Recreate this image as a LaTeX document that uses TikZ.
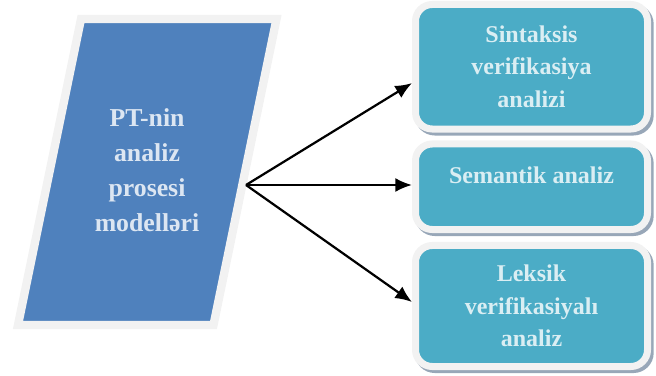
\documentclass[tikz,border=0pt]{standalone}
\usepackage{fontspec}
\setmainfont{Liberation Serif}
\usetikzlibrary{shapes.geometric,arrows.meta,shadows,positioning}
\definecolor{modblue}{HTML}{4F81BD}
\definecolor{boxteal}{HTML}{4BACC6}
\definecolor{rimgray}{HTML}{F2F2F2}
\definecolor{shdw}{HTML}{98A7B8}
\definecolor{txtblue}{HTML}{DCE6F2}
\definecolor{txtteal}{HTML}{DAEEF3}
\tikzset{
    shadowed/.style ={drop shadow={shadow xshift=0.08cm, shadow yshift=-0.09cm, fill=shdw, draw=shdw, opacity=1}},
    model/.style ={fill=modblue, draw=rimgray, line width=0.25cm, line join=miter, shadowed},
    modeltext/.style ={text=txtblue, align=center, font=\bfseries\fontsize{22}{30}\selectfont},
    stage/.style ={rounded corners=0.5cm, fill=boxteal, draw=rimgray, line width=0.21cm, shadowed,
        minimum width=6.96cm, text=txtteal, align=center, font=\bfseries\fontsize{20.5}{27.5}\selectfont},
    link/.style ={-{Latex[length=0.5cm,width=0.42cm]}, line width=1.9pt}
}
\begin{document}
\begin{tikzpicture}[x=0.03cm, y=-0.03cm]
    \useasboundingbox (0,0) rectangle (656,376);
    \path[model] (18,325) -- (81,19) -- (276.5,19) -- (213.5,325) -- cycle;
    \node (m) at (147,170) [modeltext] {PT-nin\\analiz\\prosesi\\modelləri};
    \node (syn) at (531.5,66.75) [stage, minimum height=3.735cm] {Sintaksis\\verifikasiya\\analizi};
    \node (sem) at (531.5,186.75) [stage, minimum height=2.565cm, text height=0.48cm, text depth=0.7cm] {Semantik analiz};
    \node (lex) at (531.5,306) [stage, minimum height=3.63cm] {Leksik\\verifikasiyalı\\analiz};
    \coordinate (fork) at (246,185);

    \draw[link] (fork) -- ([yshift=-0.49cm]syn.west);
    \draw[link] (fork) -- (fork -| sem.west);
    \draw[link] (fork) -- ([yshift=0.12cm]lex.west);
\end{tikzpicture}
\end{document}
